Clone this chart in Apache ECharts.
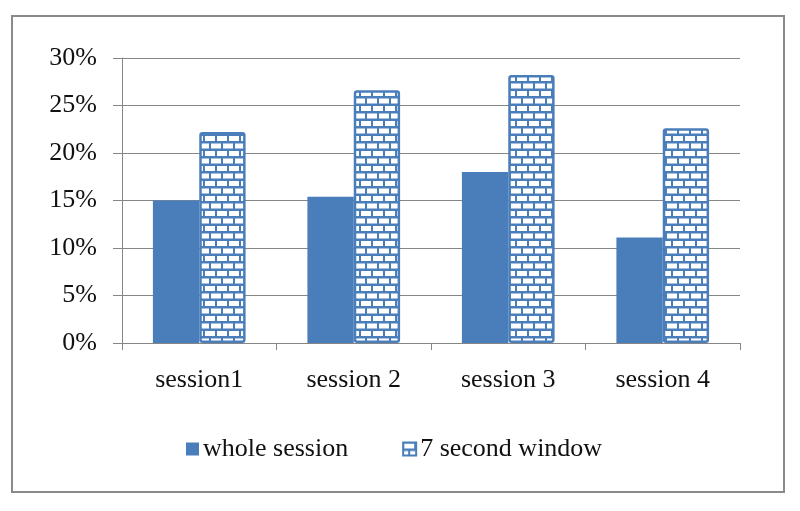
<!DOCTYPE html>
<html>
<head>
<meta charset="utf-8">
<script src="https://cdn.jsdelivr.net/npm/echarts@6/dist/echarts.min.js"></script>
<style>
  html, body { margin: 0; padding: 0; background: #fff; }
  #chart { width: 800px; height: 511px; }
</style>
</head>
<body>
<div id="chart"></div>
<script>
// data
const categories = ["session1", "session 2", "session 3", "session 4"];
const wholeSession = [0.150, 0.154, 0.180, 0.111];
const sevenSecond = [0.222, 0.266, 0.282, 0.226];
const seriesNames = ["whole session", "7 second window"];

const blue = "#4a7ebb";
const font = "Liberation Serif";

// brick pattern for the second series
function brickTile() {
  const c = document.createElement("canvas");
  c.width = 12;
  c.height = 15;
  const ctx = c.getContext("2d");
  ctx.fillStyle = blue;
  ctx.fillRect(0, 0, 12, 15);
  ctx.fillStyle = "#ffffff";
  // row 1
  ctx.fillRect(1, 1, 10, 5);
  // row 2 (offset half a brick)
  ctx.fillRect(-5, 8.5, 10, 5);
  ctx.fillRect(7, 8.5, 10, 5);
  return c;
}

const chart = echarts.init(document.getElementById("chart"));
const option = {
  backgroundColor: "#fff",
  animation: false,
  graphic: [{
    type: "rect",
    shape: { x: 12, y: 16, width: 772, height: 476 },
    style: { fill: "none", stroke: "#8a8a8a", lineWidth: 2 },
    silent: true
  }],
  grid: { left: 122, right: 60, top: 58, bottom: 168 },
  legend: {
    data: seriesNames,
    left: 181,
    top: 431,
    itemWidth: 13,
    itemHeight: 13,
    itemGap: 54,
    icon: "rect",
    textStyle: { fontFamily: font, fontSize: 26, color: "#111", padding: [0, 0, 0, -1] }
  },
  xAxis: {
    type: "category",
    data: categories,
    axisLine: { lineStyle: { color: "#868686", width: 1 } },
    axisTick: { show: true, length: 7, alignWithLabel: false, lineStyle: { color: "#868686" } },
    axisLabel: { fontFamily: font, fontSize: 26, color: "#111", margin: 24 }
  },
  yAxis: {
    type: "value",
    min: 0,
    max: 0.3,
    interval: 0.05,
    axisLine: { show: true, lineStyle: { color: "#868686", width: 1 } },
    axisTick: { show: true, length: 9, lineStyle: { color: "#868686" } },
    splitLine: { lineStyle: { color: "#868686", width: 1 } },
    axisLabel: {
      fontFamily: font, fontSize: 26, color: "#111", margin: 25,
      formatter: function (v) { return Math.round(v * 100) + "%"; }
    }
  },
  series: [
    {
      name: seriesNames[0],
      type: "bar",
      data: wholeSession,
      barGap: "0%",
      barCategoryGap: "40%",
      itemStyle: { color: blue }
    },
    {
      name: seriesNames[1],
      type: "bar",
      data: sevenSecond,
      barGap: "0%",
      barCategoryGap: "40%",
      itemStyle: {
        color: { image: brickTile(), repeat: "repeat" },
        borderColor: blue,
        borderWidth: 2.5,
        borderRadius: 2
      }
    }
  ]
};
chart.setOption(option);
</script>
</body>
</html>
